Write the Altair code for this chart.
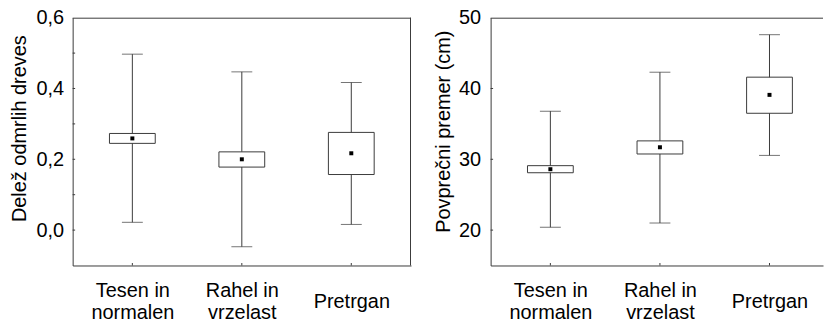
import json
import altair as alt
import pandas as pd

# ---------------- data ----------------
categories = ["Tesen in normalen", "Rahel in vrzelast", "Pretrgan"]
label_lines = [["Tesen in", "normalen"], ["Rahel in", "vrzelast"], ["Pretrgan"]]
positions = [0, 1, 2]

delez_mean = [0.259, 0.200, 0.217]
delez_box_low = [0.245, 0.178, 0.157]
delez_box_high = [0.273, 0.221, 0.276]
delez_whisker_low = [0.022, -0.047, 0.016]
delez_whisker_high = [0.497, 0.447, 0.417]

premer_mean = [28.6, 31.7, 39.1]
premer_box_low = [28.1, 30.75, 36.5]
premer_box_high = [29.1, 32.6, 41.6]
premer_whisker_low = [20.4, 21.0, 30.55]
premer_whisker_high = [36.8, 42.3, 47.6]

delez_ticks = [0.0, 0.2, 0.4, 0.6]
delez_minor_ticks = [0.0, 0.1, 0.2, 0.3, 0.4, 0.5]
premer_ticks = [20, 30, 40, 50]
premer_minor_ticks = [20, 30, 40]

INK = "#3a3a3a"
FONT = "Liberation Sans"
FS = 20


def make_df(mean, lo, hi, wlo, whi):
    return pd.DataFrame({
        "pos": positions, "cat": categories, "mean": mean,
        "box_low": lo, "box_high": hi, "w_low": wlo, "w_high": whi,
    })


def panel(df, ydomain, yticks, minor, xmax, width, height, title, title_y,
          right_border, decimals, label_pad, title_pad):
    xscale = alt.Scale(domain=[-0.5, xmax], nice=False, zero=False)
    yscale = alt.Scale(domain=ydomain, nice=False, zero=False)
    common = dict(labelFont=FONT, labelFontSize=FS, labelColor="black",
                  titleFont=FONT, titleFontSize=FS, titleFontWeight="normal", titleColor="black",
                  ticks=False, grid=False, domain=True, domainColor=INK, domainWidth=1,
                  labelFlush=False, labelOverlap=False)
    xaxis = alt.Axis(values=positions, labelExpr=json.dumps(label_lines) + "[datum.value]",
                     labelBaseline="middle",
                     labelPadding={"condition": {"test": "datum.value < 2", "value": 25}, "value": 36},
                     labelLineHeight=22, labelBound=False, title=None, **common)
    yfmt = ".1f" if decimals else "d"
    yaxis = alt.Axis(values=yticks, format=yfmt, labelExpr="replace(datum.label, '.', ',')",
                     labelPadding=label_pad, title=title, titlePadding=title_pad, titleY=title_y, **common)

    def X(f):
        return alt.X(f, type="quantitative", scale=xscale, axis=xaxis)

    def Y(f):
        return alt.Y(f, type="quantitative", scale=yscale, axis=yaxis)

    base = alt.Chart(df)
    whisk = base.mark_rule(color=INK, strokeWidth=1).encode(x=X("pos"), y=Y("w_low"), y2="w_high")
    cap_lo = base.mark_tick(orient="horizontal", size=21, thickness=1, color=INK).encode(x=X("pos"), y=Y("w_low"))
    cap_hi = base.mark_tick(orient="horizontal", size=21, thickness=1, color=INK).encode(x=X("pos"), y=Y("w_high"))
    box = base.mark_bar(size=46, fill="white", stroke=INK, strokeWidth=1).encode(x=X("pos"), y=Y("box_low"), y2="box_high")
    pt = base.mark_square(size=16, color="black", opacity=1).encode(x=X("pos"), y=Y("mean"))

    ytk = alt.Chart(pd.DataFrame({"v": minor})).mark_rule(color=INK, strokeWidth=1).encode(
        y=Y("v"), x=alt.value(0), x2=alt.value(2.5))
    xtk = alt.Chart(pd.DataFrame({"p": positions})).mark_rule(color=INK, strokeWidth=1).encode(
        x=X("p"), y=alt.value(height), y2=alt.value(height - 2.5))
    top = alt.Chart(pd.DataFrame({"p": [0]})).mark_rule(color=INK, strokeWidth=1).encode(
        x=alt.value(0), x2=alt.value(width), y=alt.value(0.5))
    layers = [whisk, cap_lo, cap_hi, box, pt, ytk, xtk, top]
    if right_border:
        rb = alt.Chart(pd.DataFrame({"p": [0]})).mark_rule(color=INK, strokeWidth=1).encode(
            x=alt.value(width - 0.5), y=alt.value(0), y2=alt.value(height))
        layers.append(rb)
    return alt.layer(*layers).properties(width=width, height=height)


H = 249
left = panel(make_df(delez_mean, delez_box_low, delez_box_high, delez_whisker_low, delez_whisker_high),
             [-0.1, 0.6], delez_ticks, delez_minor_ticks, 2.5, 340, H,
             "Delež odmrlih dreves", 111, True, True, 9, 6.5)
right = panel(make_df(premer_mean, premer_box_low, premer_box_high, premer_whisker_low, premer_whisker_high),
              [15, 50], premer_ticks, premer_minor_ticks, 2.443, 334, H,
              "Povprečni premer (cm)", 114, False, False, 10, 5)

chart = alt.hconcat(left, right, spacing=21).properties(
    padding={"left": 9, "top": 7, "right": 0, "bottom": 0},
    background="white",
).configure_view(stroke=None)

chart.save("out.html", embed_options={"renderer": "svg", "actions": False})
